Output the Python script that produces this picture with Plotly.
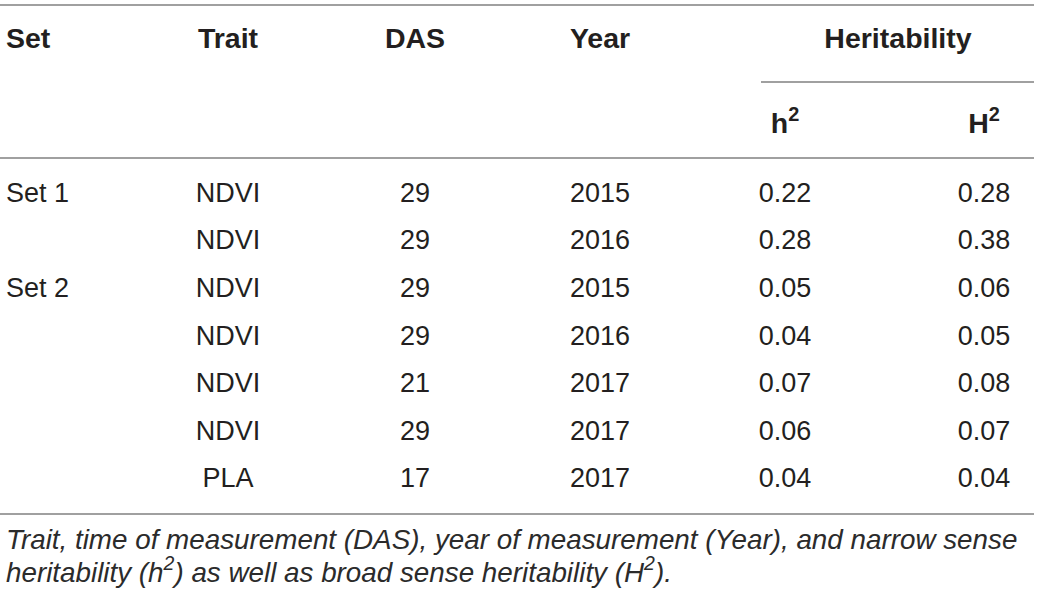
import plotly.graph_objects as go

# table content
sets = ["Set 1", "", "Set 2", "", "", "", ""]
traits = ["NDVI", "NDVI", "NDVI", "NDVI", "NDVI", "NDVI", "PLA"]
das = [29, 29, 29, 29, 21, 29, 17]
years = [2015, 2016, 2015, 2016, 2017, 2017, 2017]
h2_narrow = [0.22, 0.28, 0.05, 0.04, 0.07, 0.06, 0.04]
h2_broad = [0.28, 0.38, 0.06, 0.05, 0.08, 0.07, 0.04]

headers = ["Set", "Trait", "DAS", "Year"]
group_header = "Heritability"
sub_headers = ["h<sup>2</sup>", "H<sup>2</sup>"]
caption = [
    "<i>Trait, time of measurement (DAS), year of measurement (Year), and narrow sense</i>",
    "<i>heritability (h<sup>2</sup>) as well as broad sense heritability (H<sup>2</sup>).</i>",
]

W, H = 1040, 599
FONT = "Liberation Sans, Arial, Helvetica, sans-serif"
TEXT_COLOR = "#231f20"
CAPTION_COLOR = "#2b2b2b"
RULE_COLOR = "#808080"

# layout of columns (pixel positions on the hidden axes)
set_x = 6
col_x = [228, 415, 600, 785, 984]
group_x = 898
header_y = 41
sub_header_y = 126
row_y = [195 + 47.6 * i for i in range(len(traits))]
caption_y = [542, 575]


def text_trace(x, y, text, position="middle center", bold=False, size=27, color=TEXT_COLOR):
    return go.Scatter(
        x=x, y=y, text=text, mode="text", textposition=position,
        textfont=dict(family=FONT, size=size, color=color,
                      weight="bold" if bold else "normal"),
        hoverinfo="skip", showlegend=False,
    )


fig = go.Figure()

# headers
fig.add_trace(text_trace([set_x], [header_y], [headers[0]], "middle right", bold=True, size=28.5))
fig.add_trace(text_trace(col_x[:3], [header_y] * 3, headers[1:], bold=True, size=28.5))
fig.add_trace(text_trace([group_x], [header_y], [group_header], bold=True, size=28.5))
fig.add_trace(text_trace(col_x[3:], [sub_header_y] * 2, sub_headers, bold=True, size=28.5))

# body
n = len(traits)
set_rows = [i for i in range(n) if sets[i]]
fig.add_trace(text_trace([set_x] * len(set_rows), [row_y[i] for i in set_rows],
                         [sets[i] for i in set_rows], "middle right"))
fig.add_trace(text_trace([col_x[0]] * n, row_y, traits))
fig.add_trace(text_trace([col_x[1]] * n, row_y, [str(v) for v in das]))
fig.add_trace(text_trace([col_x[2]] * n, row_y, [str(v) for v in years]))
fig.add_trace(text_trace([col_x[3]] * n, row_y, ["%.2f" % v for v in h2_narrow]))
fig.add_trace(text_trace([col_x[4]] * n, row_y, ["%.2f" % v for v in h2_broad]))

# caption
fig.add_trace(text_trace([set_x] * 2, caption_y, caption, "middle right", size=27.8,
                         color=CAPTION_COLOR))

# rules
rules = [(0, 1034, 5), (761, 1034, 82), (0, 1034, 158), (0, 1034, 514)]
for x0, x1, y in rules:
    fig.add_shape(type="line", xref="x", yref="y", x0=x0, x1=x1, y0=y, y1=y,
                  line=dict(color=RULE_COLOR, width=1.4))

fig.update_xaxes(range=[0, W], visible=False, fixedrange=True)
fig.update_yaxes(range=[H, 0], visible=False, fixedrange=True)
fig.update_layout(
    width=W, height=H,
    margin=dict(l=0, r=0, t=0, b=0),
    paper_bgcolor="white", plot_bgcolor="white",
)

# drop the default page margin so the figure sits at the window origin
fig.write_html("out.html", config={"displayModeBar": False},
               post_script="document.body.style.margin = '0';")
